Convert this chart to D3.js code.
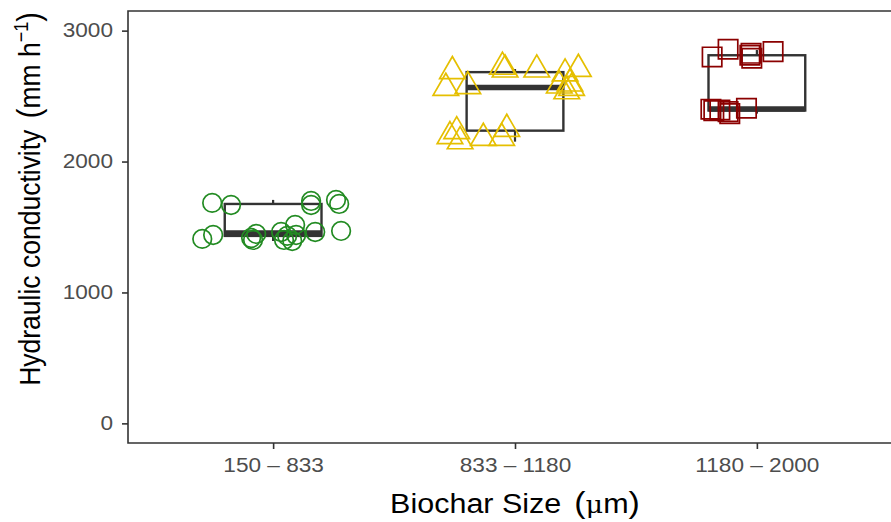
<!DOCTYPE html>
<html>
<head>
<meta charset="utf-8">
<script src="https://cdn.jsdelivr.net/npm/d3@7"></script>
<style>
  html, body { margin: 0; padding: 0; background: #fff; }
  svg { display: block; }
</style>
</head>
<body>
<svg id="chart" width="891" height="522"></svg>
<script>
// Biochar particle size classes
const categories = ["150 – 833", "833 – 1180", "1180 – 2000"];

// Measured hydraulic conductivity (mm h^-1) per size class, with horizontal jitter (in category units)
const fineValues   = [1684, 1668, 1699, 1668, 1707, 1676, 1409, 1439, 1416, 1401, 1447, 1462, 1401, 1432, 1516, 1439, 1393, 1462, 1470];
const fineJitter   = [-0.252, -0.174, 0.157, 0.157, 0.260, 0.273, -0.293, -0.248, -0.091, -0.083, -0.070, 0.033, 0.045, 0.058, 0.091, 0.095, 0.079, 0.174, 0.281];
const mediumValues = [2690, 2562, 2575, 2723, 2702, 2702, 2672, 2707, 2580, 2595, 2562, 2536, 2231, 2193, 2154, 2180, 2249, 2180];
const mediumJitter = [-0.259, -0.286, -0.195, -0.052, -0.041, 0.090, 0.207, 0.262, 0.183, 0.227, 0.234, 0.214, -0.241, -0.269, -0.227, -0.131, -0.034, -0.055];
const coarseValues = [2799, 2858, 2827, 2789, 2812, 2840, 2400, 2389, 2394, 2381, 2366, 2407];
const coarseJitter = [-0.185, -0.119, -0.024, -0.021, -0.029, 0.067, -0.190, -0.178, -0.153, -0.119, -0.112, -0.043];

// Box summaries per size class: lower whisker, Q1, median, Q3, upper whisker
const whiskerLow  = [1393, 2152, 2366];
const quartile1   = [1432, 2236, 2390];
const medians     = [1455, 2565, 2402];
const quartile3   = [1676, 2683, 2812];
const whiskerHigh = [1707, 2707, 2852];

const yTicks = [0, 1000, 2000, 3000];

const groupColors = ["#228B22", "#E5BF00", "#8B0000"];
const groupShapes = ["circle", "triangle", "square"];

const svg = d3.select("#chart");
const panel = { left: 128, top: 11, right: 902, bottom: 443 };
const font = "'Liberation Sans', Arial, sans-serif";
const stretch = 1.16;   // glyphs are drawn slightly wide

const x = d3.scaleLinear().domain([0.4, 3.6]).range([panel.left, panel.right]);
const y = d3.scaleLinear().domain([-150, 3150]).range([panel.bottom, panel.top]);

svg.append("clipPath").attr("id", "panelClip")
  .append("rect")
  .attr("x", panel.left).attr("y", panel.top)
  .attr("width", panel.right - panel.left).attr("height", panel.bottom - panel.top);

const plot = svg.append("g").attr("clip-path", "url(#panelClip)");

// Boxes
const boxHalf = 0.2;
categories.forEach((c, i) => {
  const cx = x(i + 1);
  const g = plot.append("g").attr("stroke", "#333333").attr("fill", "none");
  g.append("line").attr("x1", cx).attr("x2", cx)
    .attr("y1", y(quartile3[i])).attr("y2", y(whiskerHigh[i])).attr("stroke-width", 2.2);
  g.append("line").attr("x1", cx).attr("x2", cx)
    .attr("y1", y(quartile1[i])).attr("y2", y(whiskerLow[i])).attr("stroke-width", 2.2);
  g.append("rect")
    .attr("x", x(i + 1 - boxHalf)).attr("width", x(i + 1 + boxHalf) - x(i + 1 - boxHalf))
    .attr("y", y(quartile3[i])).attr("height", y(quartile1[i]) - y(quartile3[i]))
    .attr("stroke-width", 2.4).attr("fill", "none");
  g.append("line")
    .attr("x1", x(i + 1 - boxHalf)).attr("x2", x(i + 1 + boxHalf))
    .attr("y1", y(medians[i])).attr("y2", y(medians[i]))
    .attr("stroke-width", 5.5);
});

// Points
const groups = [
  { values: fineValues, jitter: fineJitter },
  { values: mediumValues, jitter: mediumJitter },
  { values: coarseValues, jitter: coarseJitter }
];

function shapePath(shape) {
  if (shape === "circle") return d3.symbol(d3.symbolCircle, Math.PI * 9.3 * 9.3)();
  if (shape === "square") { const h = 9.7; return `M${-h},${-h}H${h}V${h}H${-h}Z`; }
  // equilateral triangle centred on its centroid
  const s = 25.5, hgt = s * Math.sqrt(3) / 2;
  return `M0,${-2 * hgt / 3}L${s / 2},${hgt / 3}L${-s / 2},${hgt / 3}Z`;
}

groups.forEach((grp, i) => {
  const pts = grp.values.map((v, j) => ({ v, dx: grp.jitter[j] }));
  plot.append("g").selectAll("path").data(pts).join("path")
    .attr("d", shapePath(groupShapes[i]))
    .attr("transform", d => `translate(${x(i + 1 + d.dx)},${y(d.v)})`)
    .attr("fill", "none")
    .attr("stroke", groupColors[i])
    .attr("stroke-width", 1.7);
});

// Panel border
svg.append("path")
  .attr("d", `M${panel.right},${panel.top}H${panel.left}V${panel.bottom}H${panel.right}`)
  .attr("fill", "none").attr("stroke", "#333333").attr("stroke-width", 1.6);

// Axes
const yAxis = svg.append("g").attr("transform", `translate(${panel.left},0)`)
  .call(d3.axisLeft(y).tickValues(yTicks).tickSize(6).tickPadding(9).tickFormat(d3.format("d")));
const xAxis = svg.append("g").attr("transform", `translate(0,${panel.bottom})`)
  .call(d3.axisBottom(x).tickValues([1, 2, 3]).tickSize(6).tickPadding(9).tickFormat(d => categories[d - 1]));

[yAxis, xAxis].forEach(a => {
  a.select(".domain").remove();
  a.selectAll(".tick line").attr("stroke", "#333333").attr("stroke-width", 1.6);
  a.selectAll(".tick text")
    .attr("fill", "#4D4D4D")
    .style("font-family", font)
    .style("font-size", "19.5px");
});
// widen the tick labels about their anchor point
yAxis.selectAll(".tick text")
  .attr("transform", function () { return `translate(${+this.getAttribute("x")},0) scale(${stretch},1)`; })
  .attr("x", 0);
xAxis.selectAll(".tick text").attr("transform", `scale(${stretch},1)`);

// Axis titles
const xt = svg.append("text")
  .attr("transform", `translate(${(panel.left + panel.right) / 2},513) scale(1.13,1)`)
  .attr("text-anchor", "middle")
  .style("font-family", font).style("font-size", "27px").attr("fill", "#000");
xt.append("tspan").text("Biochar Size ");
xt.append("tspan").attr("dx", 4).style("font-size", "30px").text("(");
xt.append("tspan").style("font-family", "'DejaVu Serif', serif").style("font-size", "24px").text("μ");
xt.append("tspan").text("m");
xt.append("tspan").style("font-size", "30px").text(")");

const yt = svg.append("text")
  .attr("transform", `translate(40,199) scale(1.13,1) rotate(-90)`)
  .attr("text-anchor", "middle")
  .style("font-family", font).style("font-size", "26.5px").attr("fill", "#000");
yt.append("tspan").text("Hydraulic conductivity ");
yt.append("tspan").attr("dx", 4).style("font-size", "29px").text("(");
yt.append("tspan").text("mm h");
yt.append("tspan").attr("dy", -11).style("font-size", "18px").text("−1");
yt.append("tspan").attr("dy", 11).style("font-size", "29px").text(")");
</script>
</body>
</html>
